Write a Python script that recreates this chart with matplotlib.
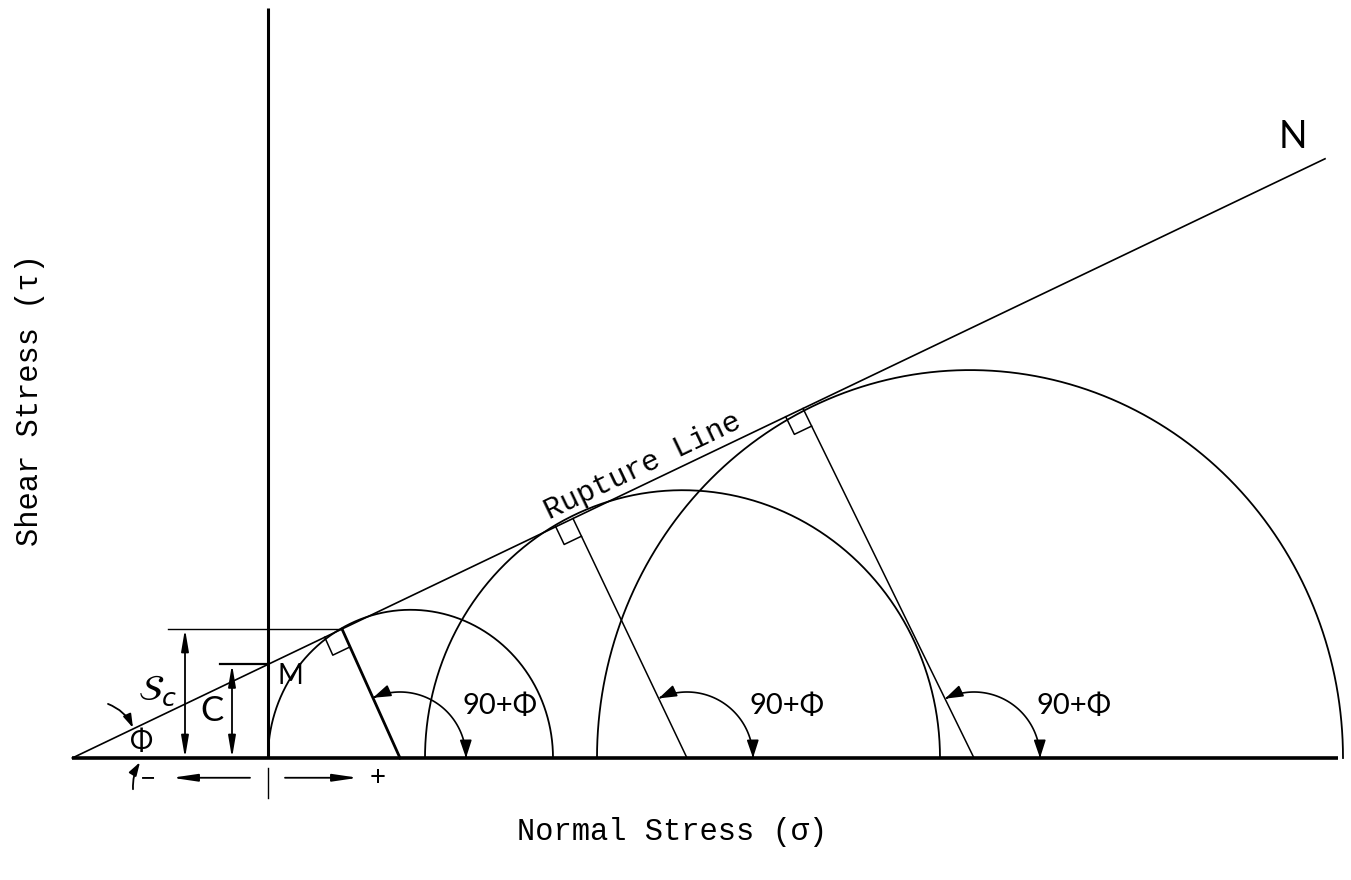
import numpy as np
import matplotlib
matplotlib.use("Agg")
import matplotlib.pyplot as plt
from matplotlib.patches import FancyArrowPatch
from matplotlib.path import Path

# === DIAGRAM VALUES (drawing units) ===
sigma3 = [0, 157, 329]          # minor principal stress of each circle
sigma1 = [285, 672, 1075]       # major principal stress of each circle
cohesion = 90.0                 # C, intercept on the shear axis
phi_deg = 24.7                  # angle of internal friction
tangent_sigma = [74, 305, 535]  # where each radius meets the rupture line
radius_base = [132, 419, 706]   # where each radius meets the normal-stress axis
angle_label = "90+Φ"

k = 1.04  # vertical stretch of the original drawing

tan_phi = np.tan(np.radians(phi_deg))
sigma0 = -cohesion / tan_phi


def tau_line(s):
    return cohesion + tan_phi * np.asarray(s, dtype=float)


hand = ["Lato", "DejaVu Sans"]
mono = ["Liberation Mono", "DejaVu Sans Mono"]

fig = plt.figure(figsize=(13.51, 8.80), dpi=100)
ax = fig.add_axes([0, 0, 1, 1])
ax.set_xlim(-268, 1083)
ax.set_ylim(-122 / k, 758 / k)
ax.axis("off")

# === AXES OF THE DIAGRAM ===
ax.plot([sigma0, 1070], [0, 0], color="black", lw=2.6, solid_capstyle="butt")
ax.plot([0, 0], [0, 721], color="black", lw=2.2, solid_capstyle="butt")

# === RUPTURE LINE ===
s_end = 1057
ax.plot([sigma0, s_end], [0, tau_line(s_end)], color="black", lw=1.2)
rot = np.degrees(np.arctan(tan_phi * k))
ax.text(375, tau_line(375) + 18, "Rupture Line", rotation=rot, rotation_mode="anchor",
        ha="center", va="center", fontsize=21.5, family=mono)
ax.text(1025, 597, "N", fontsize=27, family=hand, ha="center", va="center")

# === MOHR CIRCLES ===
t = np.linspace(0, np.pi, 400)
for s3, s1 in zip(sigma3, sigma1):
    c = (s1 + s3) / 2
    r = (s1 - s3) / 2
    ax.plot(c + r * np.cos(t), r * np.sin(t), color="black", lw=1.3)

# === RADII, RIGHT-ANGLE MARKS, 90+phi ARCS ===
for i, (ts, b) in enumerate(zip(tangent_sigma, radius_base)):
    tt = float(tau_line(ts))
    ax.plot([b, ts], [0, tt], color="black", lw=2.0 if i == 0 else 1.1)

    u = np.array([-1.0, -tan_phi])
    u /= np.hypot(*u)
    v = np.array([b - ts, -tt])
    v /= np.hypot(*v)
    s = 19
    p0 = np.array([ts, tt])
    sq = np.array([p0 + s * u, p0 + s * u + s * v, p0 + s * v])
    ax.plot(sq[:, 0], sq[:, 1], color="black", lw=1.1)

    ang = np.arctan2(tt * k, ts - b)
    R = 66
    a = np.linspace(ang, 0, 80)
    arc = np.column_stack([b + R * np.cos(a), R * np.sin(a) / k])
    ax.add_patch(FancyArrowPatch(path=Path(arc), color="black", lw=1.2,
                                 arrowstyle="<|-|>,head_length=0.9,head_width=0.3",
                                 mutation_scale=12))
    ax.text(b + 100, 50, angle_label, fontsize=21, family=hand,
            ha="center", va="center")

# === Sc AND C DIMENSIONS ===
t0 = float(tau_line(tangent_sigma[0]))
ax.plot([-100, tangent_sigma[0]], [t0, t0], color="black", lw=1.0)
ax.plot([-48, 0], [cohesion, cohesion], color="black", lw=1.6)
dim = dict(arrowstyle="<|-|>,head_length=1.3,head_width=0.22", color="black",
           lw=1.3, shrinkA=0, shrinkB=0, mutation_scale=10)
ax.annotate("", xy=(-83, t0), xytext=(-83, 0), arrowprops=dim)
ax.annotate("", xy=(-36, cohesion), xytext=(-36, 0), arrowprops=dim)
ax.text(-111, 65, r"$\mathcal{S}_{c}$", fontsize=26, ha="center", va="center")
ax.text(-56, 45, "C", fontsize=25, family=hand, ha="center", va="center")
ax.text(22, 79, "M", fontsize=20, family=hand, ha="center", va="center")

# === PHI ANGLE ===
ax.text(-126, 15, "Φ", fontsize=20, family=hand, ha="center", va="center")
ax.annotate("", xy=(-135, 29), xytext=(-160, 52),
            arrowprops=dict(arrowstyle="-|>,head_length=0.8,head_width=0.25", color="black",
                            lw=1.3, shrinkA=0, shrinkB=0, connectionstyle="arc3,rad=-0.2"))
ax.annotate("", xy=(-128, -4), xytext=(-135, -30),
            arrowprops=dict(arrowstyle="-|>,head_length=0.8,head_width=0.25", color="black",
                            lw=1.3, shrinkA=0, shrinkB=0, connectionstyle="arc3,rad=-0.15"))

# === SIGN CONVENTION ===
ax.plot([0, 0], [-10, -38], color="black", lw=1.0)
sign = dict(arrowstyle="-|>,head_length=1.5,head_width=0.22", color="black",
            lw=1.3, shrinkA=0, shrinkB=0, mutation_scale=10)
ax.annotate("", xy=(-96, -19), xytext=(-18, -19), arrowprops=sign)
ax.annotate("", xy=(90, -19), xytext=(17, -19), arrowprops=sign)
ax.text(-120, -19, "−", fontsize=20, family=hand, ha="center", va="center")
ax.text(110, -19, "+", fontsize=20, family=hand, ha="center", va="center")

# === AXIS TITLES ===
fig.text(672 / 1351, 1 - 832 / 880, "Normal Stress (σ)", fontsize=22, family=mono,
         ha="center", va="center")
fig.text(30 / 1351, 1 - 400 / 880, "Shear Stress (τ)", fontsize=22, family=mono,
         ha="center", va="center", rotation=90)

fig.savefig("out.png", dpi=100)
